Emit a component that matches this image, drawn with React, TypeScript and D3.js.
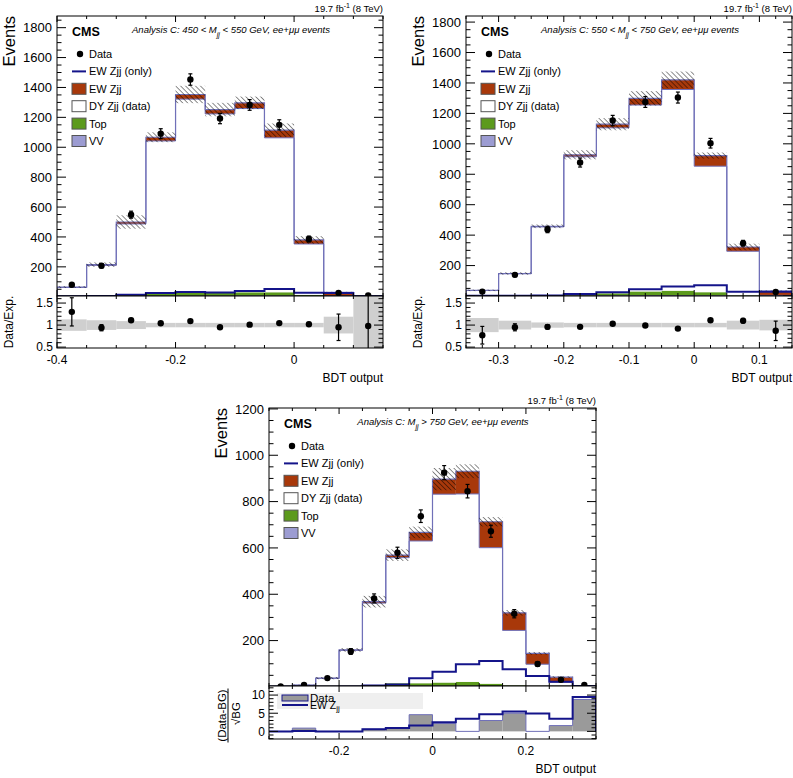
import React from 'react'
import * as d3 from 'd3'

// ---- Analysis C, 450 < Mjj < 550 GeV
const edgesA = [-0.4, -0.35, -0.3, -0.25, -0.2, -0.15, -0.1, -0.05, 0, 0.05, 0.1, 0.15]
const vvA = [2, 3, 4, 6, 7, 7, 8, 8, 5, 1, 0]
const topA = [1, 2, 5, 16, 22, 22, 22, 22, 8, 1, 0]
const dyA = [59, 205, 478, 1020, 1293, 1194, 1229, 1033, 340, 2, 5]
const ewA = [3, 5, 13, 25, 31, 29, 38, 51, 27, 25, 3]
const uncA = [6, 15, 45, 33, 58, 45, 42, 45, 25, 4, 2]
const dataA = [80, 207, 549, 1091, 1453, 1192, 1283, 1150, 386, 25, 8]
const ratioA = [1.3, 0.94, 1.11, 1.04, 1.09, 0.95, 1.01, 1.045, 1.02, 0.95, 0.98]
const ratioErrA = [0.32, 0.07, 0.04, 0.03, 0.03, 0.03, 0.03, 0.03, 0.04, 0.3, 0.75]
const bandA = [0.13, 0.11, 0.09, 0.05, 0.05, 0.05, 0.05, 0.05, 0.05, 0.19, 1.5]

// ---- Analysis C, 550 < Mjj < 750 GeV
const edgesB = [-0.35, -0.3, -0.25, -0.2, -0.15, -0.1, -0.05, 0, 0.05, 0.1, 0.15]
const vvB = [1, 1, 2, 4, 5, 6, 6, 5, 2, 1]
const topB = [0, 1, 2, 5, 13, 24, 29, 20, 3, 1]
const dyB = [35, 144, 450, 906, 1087, 1225, 1322, 828, 289, 2]
const ewB = [1, 2, 4, 13, 24, 44, 63, 70, 28, 28]
const uncB = [5, 8, 12, 30, 40, 47, 55, 20, 22, 5]
const dataB = [29, 139, 437, 877, 1153, 1275, 1304, 1004, 347, 27]
const ratioB = [0.77, 0.95, 0.96, 0.96, 1.03, 0.99, 0.92, 1.11, 1.1, 0.87]
const ratioErrB = [0.2, 0.08, 0.05, 0.03, 0.03, 0.03, 0.03, 0.03, 0.05, 0.22]
const bandB = [0.16, 0.1, 0.06, 0.05, 0.05, 0.05, 0.05, 0.05, 0.1, 0.12]

// ---- Analysis C, Mjj > 750 GeV
const edgesC = [-0.35, -0.3, -0.25, -0.2, -0.15, -0.1, -0.05, 0, 0.05, 0.1, 0.15, 0.2, 0.25, 0.3, 0.35]
const vvC = [0, 1, 1, 2, 3, 4, 5, 5, 5, 4, 3, 2, 1, 0]
const topC = [0, 0, 0, 1, 2, 12, 11, 14, 17, 10, 4, 1, 0, 0]
const dyC = [2, 6, 36, 155, 357, 542, 614, 813, 811, 587, 237, 95, 19, 1]
const ewC = [1, 1, 1, 2, 6, 11, 37, 65, 98, 112, 76, 47, 22, 4]
const uncC = [1, 2, 5, 8, 25, 25, 25, 48, 30, 20, 12, 6, 4, 1]
const dataC = [2, 9, 38, 153, 382, 579, 737, 925, 845, 672, 316, 99, 31, 8]
const sigDataC = [0, 0.9, 0, 0, 0.6, 0.9, 4.6, 2.2, 0, 3.0, 5.0, 0, 1.6, 8.8]
const sigEwC = [0, 0.1, 0, 0, 0.6, 0.9, 1.6, 2.5, 3.5, 4.7, 5.5, 4.9, 3.5, 9.5]

const legendLabels = ['Data', 'EW Zjj (only)', 'EW Zjj', 'DY Zjj (data)', 'Top', 'VV']

const FONT = '"Liberation Sans", Arial, Helvetica, sans-serif'
const C_EW = '#a8380a'
const C_TOP = '#5c9a1c'
const C_VV = '#9c9cd2'
const C_LINE = '#14148a'
const C_OUT = '#7070b8'
const KEYS = ['vv', 'top', 'dy', 'ew']

const ticksAt = (lo: number, hi: number, step: number) => {
  const out: number[] = []
  for (let k = Math.ceil(lo / step - 1e-6); k * step <= hi + 1e-9; k++) out.push(Math.round(k * step * 1e6) / 1e6)
  return out
}
const isMajor = (v: number, s: number) => Math.abs(v / s - Math.round(v / s)) < 1e-6
const fmt = (v: number) => (Math.abs(v) < 1e-9 ? '0' : String(v))

function Frame({ x, y, xMaj, xMin, yMaj, yMin, xl, yl }: any) {
  const [x0, x1] = x.range()
  const [yb, yt] = y.range()
  const xd = x.domain()
  const yd = y.domain()
  const segs: number[][] = []
  ticksAt(xd[0], xd[1], xMin).forEach((v) => {
    const L = isMajor(v, xMaj) ? xl : xl / 2
    const px = x(v)
    segs.push([px, yb, px, yb - L], [px, yt, px, yt + L])
  })
  ticksAt(yd[0], yd[1], yMin).forEach((v) => {
    const L = isMajor(v, yMaj) ? yl : yl / 2
    const py = y(v)
    segs.push([x0, py, x0 + L, py], [x1, py, x1 - L, py])
  })
  return (
    <g stroke="#000" strokeWidth={1}>
      {segs.map((s, i) => <line key={i} x1={s[0]} y1={s[1]} x2={s[2]} y2={s[3]} />)}
      <rect x={x0} y={yt} width={x1 - x0} height={yb - yt} fill="none" />
    </g>
  )
}

function Panel(p: any) {
  const x = d3.scaleLinear().domain(p.xDom).range([p.x0, p.x1])
  const y = d3.scaleLinear().domain(p.yDom).range([p.yM, p.yT])
  const yl = d3.scaleLinear().domain(p.lowDom).range([p.yB, p.yM])
  const e: number[] = p.edges
  const rows = p.dy.map((_: number, i: number) => ({ vv: p.vv[i], top: p.top[i], dy: p.dy[i], ew: p.ew[i] }))
  const series = d3.stack<any>().keys(KEYS)(rows)
  const total = series[3].map((d) => d[1])
  const dyTop = series[2].map((d) => d[1])
  const fills = [C_VV, C_TOP, '#ffffff', C_EW]
  const step = (vals: number[], sy: any, base: number) => {
    const pts: [number, number][] = [[x(e[0]), sy(base)]]
    vals.forEach((v, i) => { pts.push([x(e[i]), sy(v)], [x(e[i + 1]), sy(v)]) })
    pts.push([x(e[e.length - 1]), sy(base)])
    return d3.line()(pts) ?? ''
  }
  const cx = (i: number) => x((e[i] + e[i + 1]) / 2)
  const bw = (i: number) => x(e[i + 1]) - x(e[i])
  const mainClip = `main-${p.id}`
  const lowClip = `low-${p.id}`
  const rowY = (k: number) => p.yT + 38 + k * 17.4
  const lx = p.x0 + 15
  const midLow = (p.yM + p.yB) / 2

  return (
    <g>
      <defs>
        <clipPath id={mainClip}><rect x={p.x0} y={p.yT} width={p.x1 - p.x0} height={p.yM - p.yT} /></clipPath>
        <clipPath id={lowClip}><rect x={p.x0} y={p.yM} width={p.x1 - p.x0} height={p.yB - p.yM} /></clipPath>
      </defs>

      {/* main pad */}
      <g clipPath={`url(#${mainClip})`}>
        {series.map((s, k) => s.map((d, i) => (
          <rect key={`${k}-${i}`} x={x(e[i])} y={y(d[1])} width={bw(i)} height={Math.max(0, y(d[0]) - y(d[1]))} fill={fills[k]} />
        )))}
        <path d={step(dyTop, y, 0)} fill="none" stroke={C_OUT} strokeWidth={1} />
        <path d={step(total, y, 0)} fill="none" stroke={C_OUT} strokeWidth={1.2} />
        {total.map((t, i) => (
          <rect key={i} x={x(e[i])} y={y(t + p.unc[i])} width={bw(i)} height={y(t - p.unc[i]) - y(t + p.unc[i])} fill="url(#hatch)" />
        ))}
        <path d={step(p.ew, y, 0)} fill="none" stroke={C_LINE} strokeWidth={2} />
        {p.data.map((d: number, i: number) => {
          const er = Math.sqrt(d)
          return (
            <g key={i} stroke="#000" strokeWidth={1.2}>
              <line x1={cx(i)} x2={cx(i)} y1={y(d + er)} y2={y(Math.max(0, d - er))} />
              <line x1={cx(i) - 2} x2={cx(i) + 2} y1={y(d + er)} y2={y(d + er)} />
              <line x1={cx(i) - 2} x2={cx(i) + 2} y1={y(d - er)} y2={y(d - er)} />
              <circle cx={cx(i)} cy={y(d)} r={3.2} fill="#000" stroke="none" />
            </g>
          )
        })}
      </g>
      <Frame x={x} y={y} xMaj={p.xLab} xMin={p.xMin} yMaj={200} yMin={50} xl={6} yl={9} />
      {ticksAt(p.yDom[0], p.yDom[1], 200).filter((v) => v > 0).map((v) => (
        <text key={v} x={p.x0 - 5} y={y(v)} dy="0.36em" textAnchor="end" fontSize={13}>{v}</text>
      ))}
      <text transform={`translate(${p.x0 - 42},${p.yT}) rotate(-90)`} textAnchor="end" fontSize={16.5}>Events</text>

      {/* texts */}
      <text x={p.x1} y={p.yT - 4} textAnchor="end" fontSize={9.5}>
        19.7 fb<tspan dy={-4} fontSize={7}>-1</tspan><tspan dy={4}> (8 TeV)</tspan>
      </text>
      <text x={p.x0 + 15} y={p.yT + 20} fontSize={12.5} fontWeight="bold">CMS</text>
      <text x={p.x0 + 174} y={p.yT + 17} textAnchor="middle" fontSize={9.5} fontStyle="italic">
        {p.pre}<tspan dy={4} fontSize={7}>jj</tspan><tspan dy={-4}>{p.post}</tspan>
      </text>

      {/* legend */}
      <circle cx={p.x0 + 23} cy={rowY(0)} r={3.2} fill="#000" />
      <line x1={lx} x2={lx + 14} y1={rowY(1)} y2={rowY(1)} stroke={C_LINE} strokeWidth={2} />
      {[C_EW, '#ffffff', C_TOP, C_VV].map((c, k) => (
        <rect key={k} x={lx} y={rowY(k + 2) - 5.5} width={14} height={11} fill={c} stroke="#555" strokeWidth={1} />
      ))}
      {legendLabels.map((t, k) => (
        <text key={t} x={p.x0 + 32} y={rowY(k)} dy="0.36em" fontSize={11}>{t}</text>
      ))}

      {/* lower pad */}
      <rect x={p.x0} y={p.yM} width={p.x1 - p.x0} height={p.yB - p.yM} fill="#fff" />
      {p.mode === 'ratio' ? (
        <g clipPath={`url(#${lowClip})`}>
          {p.band.map((b: number, i: number) => (
            <rect key={i} x={x(e[i])} y={yl(1 + b)} width={bw(i)} height={yl(1 - b) - yl(1 + b)} fill="#cfcfcf" />
          ))}
          {p.ratio.map((r: number, i: number) => {
            const er = p.ratioErr[i]
            return (
              <g key={i} stroke="#000" strokeWidth={1.2}>
                <line x1={cx(i)} x2={cx(i)} y1={yl(r + er)} y2={yl(r - er)} />
                <line x1={cx(i) - 2} x2={cx(i) + 2} y1={yl(r + er)} y2={yl(r + er)} />
                <line x1={cx(i) - 2} x2={cx(i) + 2} y1={yl(r - er)} y2={yl(r - er)} />
                <circle cx={cx(i)} cy={yl(r)} r={3.2} fill="#000" stroke="none" />
              </g>
            )
          })}
        </g>
      ) : (
        <g clipPath={`url(#${lowClip})`}>
          {p.sigData.map((v: number, i: number) => (
            <rect key={i} x={x(e[i])} y={yl(v)} width={bw(i)} height={Math.max(0, yl(0) - yl(v))} fill="#9a9a9a" />
          ))}
          <path d={step(p.sigData, yl, 0)} fill="none" stroke={C_OUT} strokeWidth={1} />
          <path d={step(p.sigEw, yl, 0)} fill="none" stroke={C_LINE} strokeWidth={2} />
        </g>
      )}
      {p.mode === 'ratio' ? (
        <g>
          <Frame x={x} y={yl} xMaj={p.xLab} xMin={p.xMin} yMaj={0.5} yMin={0.1} xl={6} yl={9} />
          {[0.5, 1, 1.5].map((v) => (
            <text key={v} x={p.x0 - 4} y={yl(v)} dy="0.36em" textAnchor="end" fontSize={12}>{v}</text>
          ))}
          <text transform={`translate(${p.x0 - 44},${midLow}) rotate(-90)`} textAnchor="middle" fontSize={12}>Data/Exp.</text>
        </g>
      ) : (
        <g>
          <rect x={p.x0 + 8} y={p.yM + 7} width={146} height={16} fill="#efefef" />
          <rect x={p.x0 + 13} y={p.yM + 9} width={26} height={6} fill="#9a9a9a" stroke={C_LINE} strokeWidth={1} />
          <line x1={p.x0 + 13} x2={p.x0 + 39} y1={p.yM + 19} y2={p.yM + 19} stroke={C_LINE} strokeWidth={2} />
          <text x={p.x0 + 41} y={p.yM + 15.5} fontSize={11.5} fill="#000">Data</text>
          <text x={p.x0 + 41} y={p.yM + 22.5} fontSize={10.5} fill="#000">EW Z<tspan dy={2.5} fontSize={8} fill="#000">jj</tspan></text>
          <Frame x={x} y={yl} xMaj={p.xLab} xMin={p.xMin} yMaj={5} yMin={1} xl={6} yl={9} />
          {[0, 5, 10].map((v) => (
            <text key={v} x={p.x0 - 4} y={yl(v)} dy="0.36em" textAnchor="end" fontSize={12}>{v}</text>
          ))}
          <g transform={`translate(${p.x0 - 41},${midLow + 3}) rotate(-90)`} fontSize={11.5}>
            <text x={0} y={-2} textAnchor="middle">(Data-BG)</text>
            <line x1={-27} x2={27} y1={0} y2={0} stroke="#000" strokeWidth={1} />
            <text x={2} y={12} textAnchor="middle">√BG</text>
          </g>
        </g>
      )}
      {ticksAt(p.xDom[0], p.xDom[1], p.xLab).map((v) => (
        <text key={v} x={x(v)} y={p.yB + 16} textAnchor="middle" fontSize={12}>{fmt(v)}</text>
      ))}
      <text x={p.x1} y={p.yB + 34} textAnchor="end" fontSize={12}>BDT output</text>
    </g>
  )
}

export default function App() {
  return (
    <svg width={793} height={778} fontFamily={FONT} style={{ position: 'absolute', left: 0, top: 0, background: '#fff' }}>
      <defs>
        <pattern id="hatch" patternUnits="userSpaceOnUse" width={3.5} height={3.5} patternTransform="rotate(-45)">
          <line x1={0} y1={0} x2={0} y2={3.5} stroke="#000" strokeWidth={0.9} />
        </pattern>
      </defs>
      <rect width={793} height={778} fill="#fff" />
      <Panel id="a" x0={57} x1={383} yT={16} yM={296} yB={348} xDom={[-0.4, 0.15]} yDom={[5, 1878]} lowDom={[0.48, 1.66]}
        edges={edgesA} vv={vvA} top={topA} dy={dyA} ew={ewA} unc={uncA} data={dataA}
        mode="ratio" ratio={ratioA} ratioErr={ratioErrA} band={bandA} xLab={0.2} xMin={0.05}
        pre="Analysis C: 450 < M" post=" < 550 GeV, ee+μμ events" />
      <Panel id="b" x0={466} x1={792} yT={16} yM={296} yB={348} xDom={[-0.35, 0.15]} yDom={[0, 1840]} lowDom={[0.48, 1.66]}
        edges={edgesB} vv={vvB} top={topB} dy={dyB} ew={ewB} unc={uncB} data={dataB}
        mode="ratio" ratio={ratioB} ratioErr={ratioErrB} band={bandB} xLab={0.1} xMin={0.025}
        pre="Analysis C: 550 < M" post=" < 750 GeV, ee+μμ events" />
      <Panel id="c" x0={269} x1={596} yT={408} yM={686} yB={739} xDom={[-0.35, 0.35]} yDom={[4, 1204]} lowDom={[-2.1, 12.5]}
        edges={edgesC} vv={vvC} top={topC} dy={dyC} ew={ewC} unc={uncC} data={dataC}
        mode="sig" sigData={sigDataC} sigEw={sigEwC} xLab={0.2} xMin={0.05}
        pre="Analysis C: M" post=" > 750 GeV, ee+μμ events" />
    </svg>
  )
}
